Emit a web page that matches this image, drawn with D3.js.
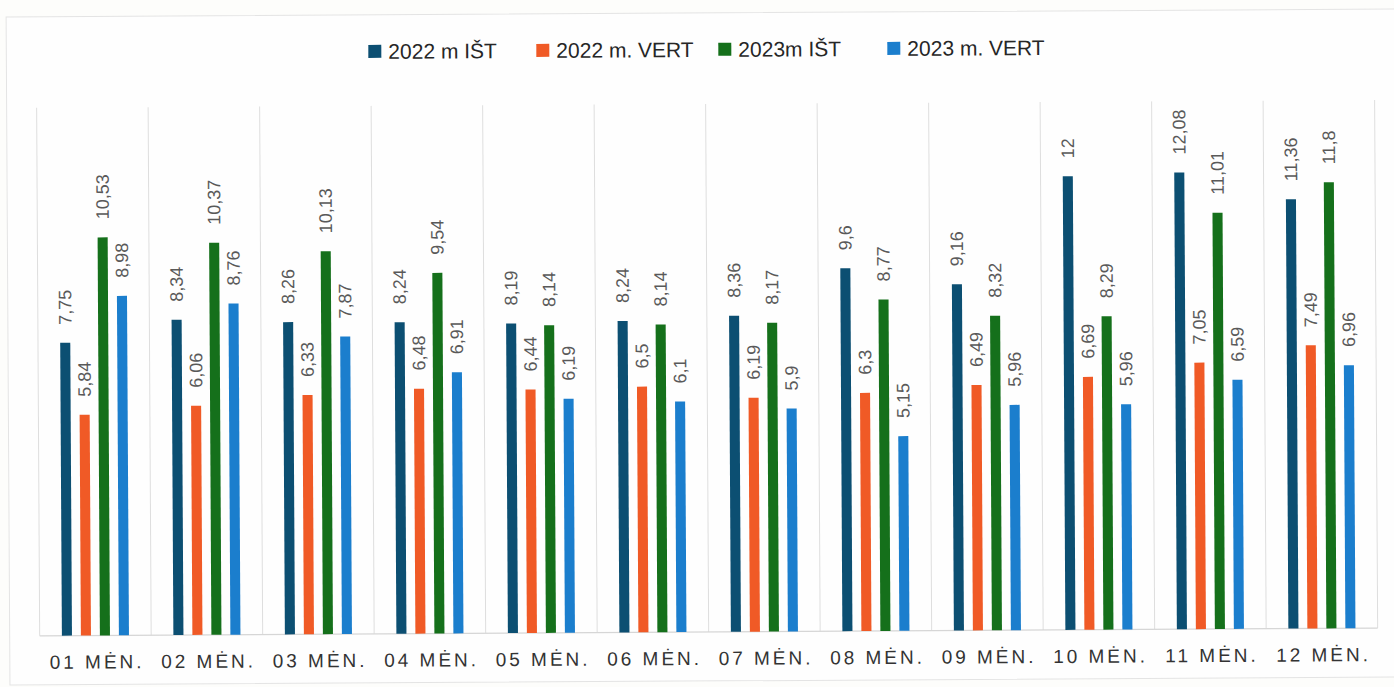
<!DOCTYPE html>
<html>
<head>
<meta charset="utf-8">
<script src="https://cdn.jsdelivr.net/npm/d3@7"></script>
<style>
  body { margin: 0; background: #fdfdfb; }
  svg { display: block; }
</style>
</head>
<body>
<svg id="chart" width="1394" height="687"></svg>
<script>
// data
var months   = ["01 MĖN.", "02 MĖN.", "03 MĖN.", "04 MĖN.", "05 MĖN.", "06 MĖN.",
                "07 MĖN.", "08 MĖN.", "09 MĖN.", "10 MĖN.", "11 MĖN.", "12 MĖN."];
var seriesNames = ["2022 m IŠT", "2022 m. VERT", "2023m IŠT", "2023 m. VERT"];
var ist2022  = [7.75, 8.34, 8.26, 8.24, 8.19, 8.24, 8.36, 9.6, 9.16, 12, 12.08, 11.36];
var vert2022 = [5.84, 6.06, 6.33, 6.48, 6.44, 6.5, 6.19, 6.3, 6.49, 6.69, 7.05, 7.49];
var ist2023  = [10.53, 10.37, 10.13, 9.54, 8.14, 8.14, 8.17, 8.77, 8.32, 8.29, 11.01, 11.8];
var vert2023 = [8.98, 8.76, 7.87, 6.91, 6.19, 6.1, 5.9, 5.15, 5.96, 5.96, 6.59, 6.96];

var colors = ["#0c4f72", "#f05a26", "#15701b", "#1b7ecd"];
var seriesValues = [ist2022, vert2022, ist2023, vert2023];

// the original is a scan, sitting a little crooked on the page
var svg = d3.select("#chart")
	.append("g")
	.attr("transform", "rotate(-0.33, 697, 343)");

// outer frame
svg.append("rect")
	.attr("x", 8).attr("y", 13)
	.attr("width", 1395).attr("height", 668)
	.attr("fill", "#fefefe")
	.attr("stroke", "#e4e4e4");

var left = 38, right = 1376, baseY = 632, gridTop = 104;

var x0 = d3.scaleBand().domain(months).range([left, right]).padding(0);
var x1 = d3.scaleBand().domain(seriesNames).range([0, 76]).paddingInner(0.47).paddingOuter(0.235);
var y  = d3.scaleLinear().domain([0, 14]).range([baseY, baseY - 14 * 37.8]);

// category separators
var seps = d3.range(months.length + 1).map(function(i){ return left + i * x0.step(); });
svg.append("g").selectAll("line").data(seps).join("line")
	.attr("x1", function(d){ return d; }).attr("x2", function(d){ return d; })
	.attr("y1", gridTop).attr("y2", baseY)
	.attr("stroke", "#dedede").attr("stroke-width", 1);

// baseline
svg.append("line")
	.attr("x1", left).attr("x2", right)
	.attr("y1", baseY).attr("y2", baseY)
	.attr("stroke", "#d6d6d6").attr("stroke-width", 1.2);

// bars + labels
var rows = [];
months.forEach(function(m, i){
	seriesNames.forEach(function(s, j){
		rows.push({ month: m, series: s, idx: j, value: seriesValues[j][i] });
	});
});

function barX(d){
	return x0(d.month) + (x0.bandwidth() - 76) / 2 + x1(d.series);
}

var gBars = svg.append("g");
gBars.selectAll("rect").data(rows).join("rect")
	.attr("x", barX)
	.attr("y", function(d){ return y(d.value); })
	.attr("width", x1.bandwidth())
	.attr("height", function(d){ return baseY - y(d.value); })
	.attr("fill", function(d){ return colors[d.idx]; });

gBars.selectAll("text").data(rows).join("text")
	.attr("transform", function(d){
		var cx = barX(d) + x1.bandwidth() / 2;
		return "translate(" + cx + "," + (y(d.value) - 18) + ") rotate(-90)";
	})
	.attr("dy", "0.35em")
	.style("font-family", "'Liberation Sans', Arial, sans-serif")
	.style("font-size", "18px")
	.attr("fill", "#595959")
	.text(function(d){ return String(d.value).replace(".", ","); });

// category labels
svg.append("g").selectAll("text").data(months).join("text")
	.attr("x", function(d){ return x0(d) + x0.bandwidth() / 2 + 1.5; })
	.attr("y", 665)
	.attr("text-anchor", "middle")
	.style("font-family", "'Liberation Sans', Arial, sans-serif")
	.style("font-size", "19px")
	.style("letter-spacing", "3px")
	.attr("fill", "#333")
	.text(function(d){ return d; });

// legend
var legendX = [370, 538, 720, 889];
var legend = svg.append("g").selectAll("g").data(seriesNames).join("g")
	.attr("transform", function(d, i){ return "translate(" + legendX[i] + ",42)"; });
legend.append("rect")
	.attr("x", 0).attr("y", 1)
	.attr("width", 13).attr("height", 13)
	.attr("fill", function(d, i){ return colors[i]; });
legend.append("text")
	.attr("x", 20).attr("y", 15)
	.style("font-family", "'Liberation Sans', Arial, sans-serif")
	.style("font-size", "21px")
	.attr("fill", "#262626")
	.text(function(d){ return d; });
</script>
</body>
</html>
